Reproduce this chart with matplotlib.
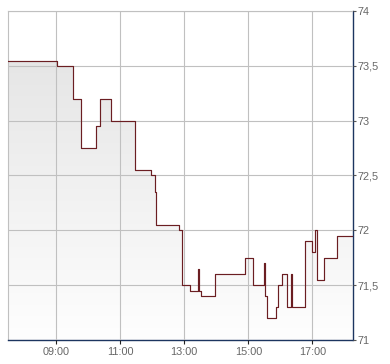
import matplotlib
matplotlib.use("Agg")
import matplotlib.pyplot as plt
import numpy as np
from matplotlib.colors import LinearSegmentedColormap

# ---- data ----
times = ["07:30", "09:02", "09:32", "09:47", "10:15", "10:22", "10:43", "11:28",
         "11:58", "12:05", "12:07", "12:51", "12:55", "13:11", "13:26", "13:27",
         "13:32", "13:58", "14:54", "15:09", "15:30", "15:32", "15:35", "15:51",
         "15:56", "16:03", "16:13", "16:20", "16:21", "16:46", "16:59", "17:05",
         "17:09", "17:22", "17:46", "18:15"]
prices = [73.54, 73.5, 73.2, 72.75, 72.95, 73.2, 73.0, 72.55,
          72.5, 72.35, 72.05, 72.0, 71.5, 71.45, 71.65, 71.45,
          71.4, 71.6, 71.75, 71.5, 71.7, 71.4, 71.2, 71.3,
          71.5, 71.6, 71.3, 71.6, 71.3, 71.9, 71.8, 72.0,
          71.55, 71.75, 71.95, 71.95]
xtick_labels = ["09:00", "11:00", "13:00", "15:00", "17:00"]
ytick_values = [71, 71.5, 72, 72.5, 73, 73.5, 74]
ytick_labels = ["71", "71,5", "72", "72,5", "73", "73,5", "74"]


def to_hours(s):
    h, m = s.split(":")
    return int(h) + int(m) / 60.0


x = np.array([to_hours(t) for t in times])
y = np.array(prices)
xt = [to_hours(t) for t in xtick_labels]

plt.rcParams['font.family'] = ['Liberation Sans', 'DejaVu Sans']

W, H = 390, 364
fig = plt.figure(figsize=(W / 100, H / 100), dpi=100)
ax = fig.add_axes([8 / W, (H - 340) / H, (352.5 - 8) / W, (340 - 11) / H])

x0, x1 = x[0], x[-1]
y0, y1 = 71, 74
ax.set_xlim(x0, x1)
ax.set_ylim(y0, y1)

# gradient fill under the step line
poly = ax.fill_between(x, y, y0, step='post', facecolor='none', edgecolor='none')
cmap = LinearSegmentedColormap.from_list('g', ['#fefefe', '#e6e6e6'])
ymax = y.max()
grad = np.linspace(0, 1, 256).reshape(-1, 1)
im = ax.imshow(grad, extent=[x0, x1, y0, ymax], origin='lower', aspect='auto',
               cmap=cmap, zorder=1, interpolation='bilinear')
im.set_clip_path(poly.get_paths()[0], transform=ax.transData)
ax.set_xlim(x0, x1)
ax.set_ylim(y0, y1)

ax.plot(x, y, drawstyle='steps-post', color='#6b1e22', lw=0.85, zorder=3)

# grid
ax.set_xticks(xt)
ax.set_xticklabels(xtick_labels)
ax.set_yticks(ytick_values)
ax.set_yticklabels(ytick_labels)
ax.grid(True, color='#c0c0c0', lw=0.8, zorder=2)
ax.set_axisbelow(False)
for gl in ax.get_xgridlines() + ax.get_ygridlines():
    gl.set_zorder(2)

ax.yaxis.tick_right()
ax.tick_params(axis='y', direction='out', length=2.5, width=0.8, color='#555555',
               labelcolor='#666666', labelsize=7.8, pad=1.2)
ax.tick_params(axis='x', direction='out', length=3, width=0.8, color='#222222',
               labelcolor='#666666', labelsize=7.8, pad=2.0)

for side in ['top', 'left']:
    ax.spines[side].set_color('#c0c0c0')
    ax.spines[side].set_linewidth(0.8)
for side in ['bottom', 'right']:
    ax.spines[side].set_color('#1c3560')
    ax.spines[side].set_linewidth(1.0)

fig.savefig('out.png', dpi=100)
